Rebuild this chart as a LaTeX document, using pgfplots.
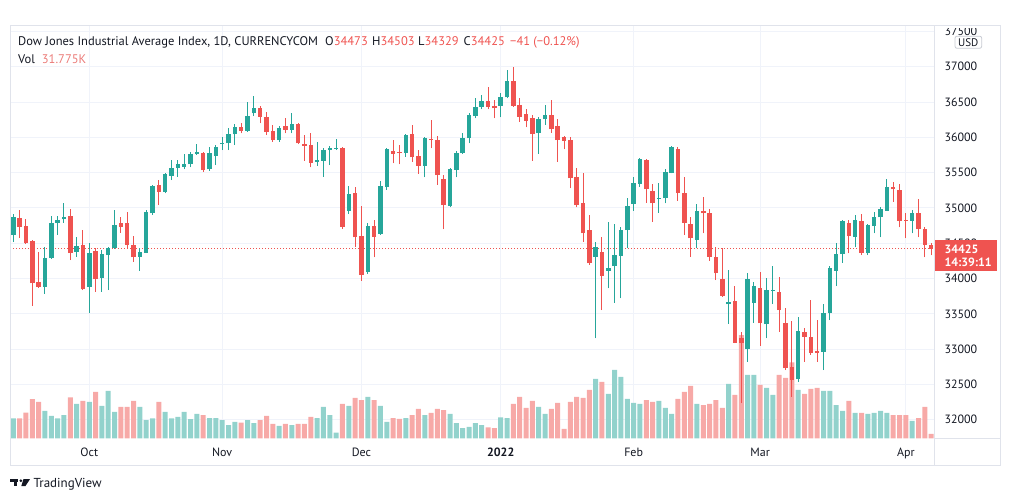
\documentclass[border=0pt]{standalone}
\usepackage{pgfplots}
\pgfplotsset{compat=1.18}
\usepackage{pgfplotstable}
\usepackage{fontspec}
\setmainfont{PT Sans}
\definecolor{up}{HTML}{26A69A}
\definecolor{dn}{HTML}{EF5350}
\definecolor{upv}{HTML}{92D2CC}
\definecolor{dnv}{HTML}{F7A9A7}
\definecolor{gridc}{HTML}{F0F3FA}
\definecolor{framec}{HTML}{E0E3EB}
\definecolor{boxc}{HTML}{C8CBD3}
\definecolor{txt}{HTML}{131722}
\definecolor{volc}{HTML}{EB7B78}

\pgfplotstableread{
k O H L C V
1 34616 34914 34521 34876 148
6 33884 34451 33781 34291 202
7 34291 34886 34280 34791 165
8 34787 34886 34617 34829 148
9 34839 35074 34787 34876 172
11 34380 34592 34309 34461 254
13 33884 34507 33507 34366 269
15 34012 34404 33813 34347 239
16 34333 34451 33837 34428 350
17 34428 34970 34420 34758 195
21 34309 34428 34111 34380 232
22 34366 34970 34360 34946 135
23 34924 35325 34900 35310 148
25 35230 35490 35207 35476 195
26 35456 35679 35395 35561 148
27 35570 35679 35442 35618 158
28 35584 35764 35547 35618 195
29 35618 35796 35575 35764 141
30 35764 35905 35750 35796 180
32 35547 35867 35527 35782 150
33 35735 35891 35608 35867 150
34 35912 36000 35820 35920 135
35 35915 36128 35820 36047 98
36 36043 36188 35891 36150 121
38 36094 36505 36080 36302 135
39 36340 36585 36302 36411 113
43 35962 36160 35938 36128 91
45 36104 36340 36057 36188 98
49 35655 35938 35594 35679 150
50 35669 35844 35442 35820 232
51 35820 35877 35608 35853 172
52 35835 35972 35820 35853 42
54 34961 35310 34914 35197 239
57 34097 34782 34064 34744 306
59 34631 35385 34620 35310 239
60 35301 35845 35254 35830 121
63 35782 36047 35726 36033 150
66 35594 36000 35434 35986 172
70 35027 35561 35009 35547 180
71 35537 35810 35434 35773 113
72 35773 36065 35764 35986 76
73 35986 36349 35915 36316 84
74 36302 36552 36269 36425 113
75 36434 36600 36397 36519 98
78 36444 36623 36283 36567 155
79 36567 36953 36553 36802 150
84 36065 36283 35764 36255 232
85 36255 36458 36175 36316 180
93 34309 34521 33153 34442 439
95 34111 34805 33861 34145 328
96 34177 34772 33657 34333 505
97 34319 34734 33720 34687 454
98 34687 35136 34428 35027 291
99 35055 35434 34961 35349 261
100 35339 35703 35301 35689 254
103 35127 35349 34932 35145 276
104 35136 35547 35065 35513 224
105 35499 35881 35490 35858 180
109 34546 35056 34428 34961 254
114 33635 34121 33356 33663 402
117 33004 34083 32822 33995 468
118 33657 33955 33374 33894 468
120 33352 34003 33153 33837 372
121 33820 34177 33639 33830 320
125 32573 33451 32539 33261 357
129 32958 33639 32704 33507 350
130 33507 34177 33412 34145 350
131 34111 34499 33894 34347 246
132 34347 34829 34224 34819 202
134 34593 34900 34442 34829 187
136 34357 34772 34333 34758 180
137 34744 34946 34640 34867 187
138 34867 35009 34584 34980 202
139 34961 35405 34960 35292 187
143 34819 34970 34640 34932 128
}\upT

\pgfplotstableread{
k O H L C V
2 34857 34970 34574 34734 148
3 34744 34843 34490 34499 190
4 34536 34545 33611 33932 289
5 33951 34380 33866 33884 269
10 34886 34985 34262 34361 303
12 34475 34687 33837 33851 276
14 34394 34432 33813 33993 343
18 34782 34876 34649 34734 232
19 34791 34946 34428 34475 232
20 34475 34602 34238 34300 276
24 35325 35395 35041 35230 269
31 35782 35790 35513 35537 172
37 36142 36198 36057 36094 116
40 36411 36444 36198 36292 135
41 36284 36363 36033 36080 165
42 36090 36175 35938 35962 106
44 36160 36270 36057 36104 106
46 36184 36198 35905 35915 106
47 35905 36033 35669 35881 106
48 35891 36065 35575 35640 158
53 35845 35859 34702 34734 254
55 35207 35292 34451 34584 298
56 34602 35027 33969 34050 283
58 34744 34829 34300 34593 283
61 35806 35962 35632 35764 150
62 35785 35891 35618 35775 143
64 36047 36175 35655 35717 172
65 35735 35820 35481 35594 217
67 35972 36245 35845 35962 187
68 35962 36019 35325 35466 217
69 35405 35466 34697 35041 209
76 36519 36708 36397 36434 81
77 36444 36529 36269 36411 76
80 36802 36992 36434 36444 254
81 36458 36552 36221 36292 306
82 36330 36397 36142 36235 224
83 36269 36316 35669 36047 276
86 36316 36529 36065 36114 217
87 36160 36255 35655 35962 261
88 36009 36019 35830 35952 69
89 35962 36000 35278 35420 269
90 35442 35561 35009 35041 306
91 35065 35490 34521 34640 298
92 34687 34900 34192 34216 357
94 34380 34592 33554 34036 417
101 35679 35689 35074 35264 283
102 35240 35339 34805 35065 269
106 35835 35867 35102 35216 291
107 35216 35434 34617 34791 343
108 34772 34867 34309 34570 387
110 34956 35159 34640 34924 246
111 34932 34980 34252 34309 254
112 34309 34442 33979 34074 283
113 33993 34428 33743 33757 224
115 33682 33894 33085 33091 320
116 33153 33247 32237 33091 762
119 33861 34097 33050 33365 394
122 33814 34017 33247 33554 468
123 33374 33578 32704 32729 446
124 32751 33403 32326 32563 562
126 33247 33295 32822 33176 328
127 33168 33696 32917 32949 365
128 32970 33412 32822 32945 372
133 34791 34829 34357 34602 276
135 34819 34914 34333 34366 187
140 35292 35372 35088 35264 172
141 35254 35339 34725 34819 172
142 34829 34932 34570 34815 172
144 34932 35122 34584 34697 150
145 34697 34725 34300 34475 232
146 34473 34503 34329 34425 32
}\dnT

\pgfplotsset{
  base/.style={at={(10pt,62.7pt)}, anchor=south west, scale only axis,
    width=924pt, height=412.3pt, xmin=0.479, xmax=146.45},
  wick/.style={draw=none, mark=none, forget plot, error bars/.cd, y dir=plus, y explicit,
    error mark=none, error bar style={draw=#1, line width=1pt}},
  body/.style={draw=none, mark=none, forget plot, error bars/.cd, y dir=plus, y explicit,
    error mark=none, error bar style={draw=#1, line width=4.5pt}},
}

\begin{document}
\begin{tikzpicture}
\path[use as bounding box] (0pt,0pt) rectangle (1012pt,501pt);

% grid and tick labels
\begin{axis}[base, ymin=31737, ymax=37577,
  axis line style={draw=none}, major tick length=0pt,
  scaled y ticks=false, scaled x ticks=false,
  xtick={13,34,56,78,99,119,142},
  xticklabels={Oct,Nov,Dec,\textbf{2022},Feb,Mar,Apr},
  ytick={32000,32500,...,37500}, yticklabel pos=right,
  grid=major, major grid style={gridc, line width=1pt},
  xticklabel style={anchor=base, yshift=-17.7pt, font=\fontsize{12}{14}\selectfont, text=txt},
  yticklabel style={anchor=west, inner sep=0pt, xshift=10.3pt, font=\fontsize{12}{14}\selectfont, text=txt},
  /pgf/number format/.cd, 1000 sep={}, assume math mode=true]
\addplot[draw=none, forget plot] coordinates {(1,34000)};
\end{axis}

% volume
\begin{axis}[base, hide axis, ymin=0, ymax=3047, ybar, bar width=5pt]
\addplot[fill=upv, draw=none, bar shift=0pt] table[x=k, y=V] {\upT};
\addplot[fill=dnv, draw=none, bar shift=0pt] table[x=k, y=V] {\dnT};
\end{axis}

% candles
\begin{axis}[base, hide axis, ymin=31737, ymax=37577]
\addplot[dn, line width=1pt, dash pattern=on 1pt off 2pt] coordinates {(0.479,34425) (146.45,34425)};
\addplot[wick=up] table[x=k, y=L, y error plus expr=\thisrow{H}-\thisrow{L}] {\upT};
\addplot[body=up] table[x=k, y=O, y error plus expr={max(\thisrow{C}-\thisrow{O},14)}] {\upT};
\addplot[wick=dn] table[x=k, y=L, y error plus expr=\thisrow{H}-\thisrow{L}] {\dnT};
\addplot[body=dn] table[x=k, y=C, y error plus expr={max(\thisrow{O}-\thisrow{C},14)}] {\dnT};
\end{axis}

\begin{scope}[x=1pt,y=1pt]
% clip top of price scale
\fill[white] (934.5,473) rectangle (1012,501);
% frame
\draw[framec, line width=1pt] (10,475) -- (1000,475) -- (1000,36) -- (10,36) -- cycle;
\draw[framec, line width=1pt] (934,475) -- (934,36);
\draw[framec, line width=1pt] (934,62.7) -- (1000,62.7);

% USD box
\draw[boxc, fill=white, rounded corners=2pt, line width=0.8pt] (955,452.7) rectangle (981.7,464.8);
\node[text=txt, inner sep=0pt, font=\fontsize{11}{13}\selectfont] at (968.3,458.7) {USD};

% price tag
\fill[dn] (934.5,230.3) rectangle (997,260.7);
\node[anchor=west, text=white, inner sep=0pt, font=\bfseries\fontsize{12}{14}\selectfont] at (944.3,251.7) {34425};
\node[anchor=west, text=white, inner sep=0pt, font=\bfseries\fontsize{12}{14}\selectfont] at (944.3,238.7) {14:39:11};

% header
\begin{scope}[every node/.style={anchor=base west, inner sep=0pt, text=txt, font=\fontsize{12.5}{15}\selectfont}]
\node at (18,455) {Dow Jones Industrial Average Index, 1D, CURRENCYCOM};
\node at (325,455) {O\textcolor{dn}{34473}};
\node at (372,455) {H\textcolor{dn}{34503}};
\node at (418,455) {L\textcolor{dn}{34329}};
\node at (463.5,455) {C\textcolor{dn}{34425}};
\node at (510,455) {\textcolor{dn}{−41 (−0.12\%)}};
\node at (18,437.7) {Vol};
\node at (41.7,437.7) {\textcolor{volc}{31.775K}};
\end{scope}

% logo
\fill[txt] (10,21.7) rectangle (18.3,19.3);
\fill[txt] (14,21.7) rectangle (17.3,15);
\fill[txt] (20.8,20.3) circle (1.5);
\fill[txt] (23.5,21.9) -- (30,21.9) -- (25.5,15) -- (21.3,15) -- cycle;
\node[anchor=base west, inner sep=0pt, text=txt, font=\fontsize{13}{15}\selectfont] at (33.3,13.5) {TradingView};
\end{scope}
\end{tikzpicture}
\end{document}
